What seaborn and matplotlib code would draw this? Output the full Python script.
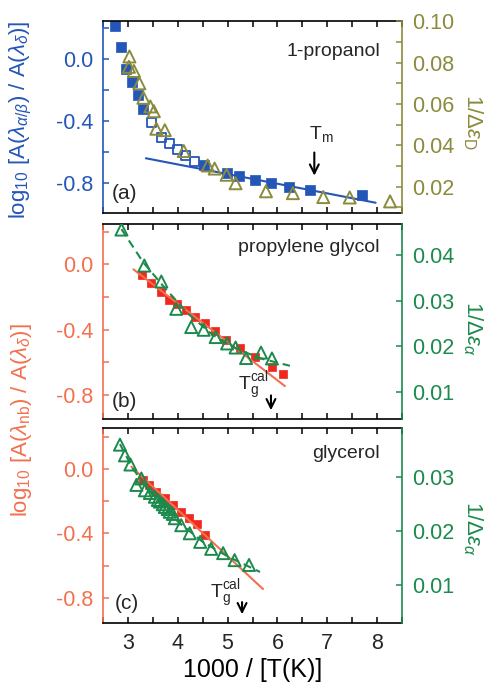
import numpy as np
import pandas as pd
import seaborn as sns
import matplotlib
matplotlib.use("Agg")
import matplotlib.pyplot as plt
from matplotlib.ticker import MultipleLocator, FormatStrFormatter

# colours
blue = '#2456b8'
olive = '#8b8b3e'
red = '#f0281e'
salmon = '#f3704f'
green = '#1b8a4c'

# (a) 1-propanol
a_sq_x = [2.74, 2.87, 2.97, 3.08, 3.21, 3.30, 4.52, 4.99, 5.23, 5.54, 5.87, 6.24, 6.65, 7.70]
a_sq_y = [0.215, 0.075, -0.066, -0.15, -0.235, -0.32, -0.686, -0.732, -0.757, -0.779, -0.80, -0.826, -0.843, -0.88]
a_open_x = [3.48, 3.68, 3.83, 4.00, 4.16, 4.34]
a_open_y = [-0.412, -0.504, -0.542, -0.586, -0.624, -0.66]
a_tri_x = [3.03, 3.02, 3.12, 3.23, 3.31, 3.45, 3.52, 3.57, 3.74, 4.12, 4.60, 4.74, 4.98, 5.16, 5.77, 6.31, 6.92, 7.45, 8.26]
a_tri_y = [0.083, 0.078, 0.076, 0.070, 0.063, 0.0588, 0.0565, 0.048, 0.0473, 0.0372, 0.0302, 0.0287,
           0.0257, 0.0216, 0.0177, 0.0168, 0.0149, 0.0147, 0.0128]
a_fit_x = [3.36, 7.97]
a_fit_y = [-0.64, -0.927]

# (b) propylene glycol
b_sq_x = [3.29, 3.47, 3.67, 3.83, 3.99, 4.16, 4.34, 4.54, 4.74, 4.96, 5.24, 5.54, 5.89, 6.11]
b_sq_y = [-0.067, -0.115, -0.17, -0.215, -0.245, -0.282, -0.323, -0.358, -0.41, -0.46, -0.513, -0.564, -0.63, -0.672]
b_tri_x = [2.87, 3.33, 3.67, 3.97, 4.27, 4.52, 4.76, 4.99, 5.16, 5.37, 5.67, 5.89]
b_tri_y = [0.0456, 0.0377, 0.0342, 0.0282, 0.0242, 0.0236, 0.0220, 0.0206, 0.0197, 0.0174, 0.0186, 0.0173]
b_fit_x = [3.11, 6.15]
b_fit_y = [-0.03, -0.745]
b_dash_x = [2.87, 3.3, 3.7, 4.2, 4.7, 5.2, 5.7, 6.25]
b_dash_y = [0.0457, 0.0385, 0.0333, 0.0272, 0.0225, 0.0193, 0.0172, 0.0157]

# (c) glycerol
c_sq_x = [3.31, 3.43, 3.57, 3.74, 3.91, 4.07, 4.23, 4.39, 4.54]
c_sq_y = [-0.068, -0.099, -0.141, -0.178, -0.224, -0.269, -0.306, -0.344, -0.41]
c_tri_x = [2.84, 2.94, 3.05, 3.17, 3.27, 3.34, 3.44, 3.54, 3.60, 3.64, 3.70, 3.74, 3.80, 3.84, 3.90, 3.94,
           4.07, 4.24, 4.45, 4.67, 4.91, 5.14, 5.43]
c_tri_y = [0.0361, 0.0341, 0.0324, 0.0286, 0.0298, 0.0276, 0.0271, 0.0264, 0.0258, 0.0255, 0.0250, 0.0245,
           0.0241, 0.0236, 0.0232, 0.0224, 0.0211, 0.0196, 0.0180, 0.0167, 0.0159, 0.0146, 0.0137]
c_fit_x = [3.07, 5.71]
c_fit_y = [0.014, -0.746]
c_dash_x = [2.84, 3.1, 3.5, 4.0, 4.5, 5.0, 5.65]
c_dash_y = [0.0362, 0.0316, 0.0267, 0.0218, 0.0180, 0.0153, 0.0124]

sns.set_theme(style="ticks")
plt.rcParams['font.family'] = ['Liberation Sans', 'DejaVu Sans']
plt.rcParams['mathtext.fontset'] = 'custom'
plt.rcParams['mathtext.rm'] = 'Liberation Sans'
plt.rcParams['mathtext.it'] = 'Liberation Sans:italic'
plt.rcParams['mathtext.bf'] = 'Liberation Sans:bold'
plt.rcParams['axes.unicode_minus'] = False

fig = plt.figure(figsize=(4.91, 6.87), dpi=100)
ax_a = fig.add_axes([0.2098, 0.690, 0.609, 0.2795])
ax_b = fig.add_axes([0.2098, 0.390, 0.609, 0.2838])
ax_c = fig.add_axes([0.2098, 0.0932, 0.609, 0.2838])
tw_a = ax_a.twinx()
tw_b = ax_b.twinx()
tw_c = ax_c.twinx()


def style(ax, tw, lcol, rcol, ylim, rlim, rmaj, rmin=None):
    ax.set_xlim(2.5, 8.5)
    ax.set_ylim(*ylim)
    tw.set_ylim(*rlim)
    ax.xaxis.set_major_locator(MultipleLocator(1))
    ax.xaxis.set_minor_locator(MultipleLocator(0.5))
    ax.yaxis.set_major_locator(MultipleLocator(0.4))
    ax.yaxis.set_minor_locator(MultipleLocator(0.2))
    ax.yaxis.set_major_formatter(FormatStrFormatter('%.1f'))
    tw.yaxis.set_major_locator(MultipleLocator(rmaj))
    if rmin:
        tw.yaxis.set_minor_locator(MultipleLocator(rmin))
    tw.yaxis.set_major_formatter(FormatStrFormatter('%.2f'))
    ax.tick_params(axis='x', which='both', direction='in', top=True, bottom=True, length=4.5,
                   width=1.1, color='black', labelsize=15.5, pad=7)
    ax.tick_params(axis='y', which='both', direction='in', left=True, right=False, length=4.5,
                   width=1.1, color=lcol, labelcolor=lcol, labelsize=15.5, pad=7)
    tw.tick_params(axis='y', which='both', direction='in', right=True, length=4.5,
                   width=1.1, color=rcol, labelcolor=rcol, labelsize=15.5, pad=7)
    for s in ax.spines.values():
        s.set_linewidth(1.2)
        s.set_color('black')
    ax.spines['left'].set_color(lcol)
    ax.spines['right'].set_visible(False)
    tw.spines['right'].set_color(rcol)
    tw.spines['right'].set_linewidth(1.2)
    for s in ['left', 'top', 'bottom']:
        tw.spines[s].set_visible(False)
    ax.set_ylabel('')
    tw.set_ylabel('')


# panel (a)
sns.lineplot(x=a_fit_x, y=a_fit_y, color=blue, lw=1.5, ax=ax_a)
sns.scatterplot(x=a_sq_x, y=a_sq_y, marker='s', s=52, color=blue, edgecolor=blue, linewidth=0.5, ax=ax_a)
sns.scatterplot(x=a_open_x, y=a_open_y, marker='s', s=42, color=blue, facecolors='none',
                edgecolor=blue, linewidth=1.3, ax=ax_a)
sns.scatterplot(x=a_tri_x, y=a_tri_y, marker='^', s=75, color=olive, facecolors='none',
                edgecolor=olive, linewidth=1.4, ax=tw_a)
style(ax_a, tw_a, blue, olive, (-0.993, 0.246), (0.0072, 0.1002), 0.02, 0.01)

# panel (b)
sns.lineplot(x=b_fit_x, y=b_fit_y, color=salmon, lw=1.5, ax=ax_b)
sns.scatterplot(x=b_sq_x, y=b_sq_y, marker='s', s=40, color=red, edgecolor=red, linewidth=0.5, ax=ax_b)
sns.lineplot(x=b_dash_x, y=b_dash_y, color=green, lw=1.5, linestyle=(0, (4, 2.5)), ax=tw_b)
sns.scatterplot(x=b_tri_x, y=b_tri_y, marker='^', s=75, color=green, facecolors='none',
                edgecolor=green, linewidth=1.4, ax=tw_b)
style(ax_b, tw_b, salmon, green, (-0.947, 0.247), (0.004, 0.0468), 0.01)

# panel (c)
sns.lineplot(x=c_fit_x, y=c_fit_y, color=salmon, lw=1.5, ax=ax_c)
sns.scatterplot(x=c_sq_x, y=c_sq_y, marker='s', s=40, color=red, edgecolor=red, linewidth=0.5, ax=ax_c)
sns.lineplot(x=c_dash_x, y=c_dash_y, color=green, lw=1.5, linestyle=(0, (4, 2.5)), ax=tw_c)
sns.scatterplot(x=c_tri_x, y=c_tri_y, marker='^', s=75, color=green, facecolors='none',
                edgecolor=green, linewidth=1.4, ax=tw_c)
style(ax_c, tw_c, salmon, green, (-0.957, 0.255), (0.0029, 0.0392), 0.01)

ax_a.tick_params(axis='x', labelbottom=False)
ax_b.tick_params(axis='x', labelbottom=False)
ax_c.set_xlabel('1000 / [T(K)]', fontsize=18, labelpad=3, color='black')

# names and panel letters
ax_a.text(0.926, 0.84, '1-propanol', transform=ax_a.transAxes, ha='right', va='center', fontsize=14)
ax_b.text(0.926, 0.88, 'propylene glycol', transform=ax_b.transAxes, ha='right', va='center', fontsize=14)
ax_c.text(0.926, 0.87, 'glycerol', transform=ax_c.transAxes, ha='right', va='center', fontsize=14)
ax_a.text(0.03, 0.10, '(a)', transform=ax_a.transAxes, ha='left', va='center', fontsize=15)
ax_b.text(0.03, 0.09, '(b)', transform=ax_b.transAxes, ha='left', va='center', fontsize=15)
ax_c.text(0.04, 0.10, '(c)', transform=ax_c.transAxes, ha='left', va='center', fontsize=15)

# arrows
arrow = dict(arrowstyle='->', color='black', lw=1.5, mutation_scale=16)
ax_a.annotate('', xy=(6.74, -0.77), xytext=(6.74, -0.585), arrowprops=arrow)
ax_a.text(6.63, -0.515, r'T$_{\rm m}$', ha='left', va='baseline', fontsize=14)
ax_b.annotate('', xy=(5.87, -0.91), xytext=(5.87, -0.785), arrowprops=arrow)
ax_b.text(5.2, -0.77, r'T$_{\rm g}^{\rm cal}$', ha='left', va='baseline', fontsize=14)
ax_c.annotate('', xy=(5.29, -0.92), xytext=(5.29, -0.81), arrowprops=arrow)
ax_c.text(4.64, -0.80, r'T$_{\rm g}^{\rm cal}$', ha='left', va='baseline', fontsize=14)

# axis titles
ax_a.text(-0.274, 0.484, r'log$_{10}$ [A($\lambda_{\alpha/\beta}$) / A($\lambda_{\delta}$)]',
          transform=ax_a.transAxes, rotation=90, ha='center', va='center', color=blue, fontsize=16)
fig.text(0.043, 0.389, r'log$_{10}$ [A($\lambda_{\rm nb}$) / A($\lambda_{\delta}$)]',
         rotation=90, ha='center', va='center', color=salmon, fontsize=16)
ax_a.text(1.235, 0.474, r'1/$\Delta\varepsilon_{\rm D}$', transform=ax_a.transAxes, rotation=270,
          ha='center', va='center', color=olive, fontsize=16)
ax_b.text(1.235, 0.467, r'1/$\Delta\varepsilon_{\alpha}$', transform=ax_b.transAxes, rotation=270,
          ha='center', va='center', color=green, fontsize=16)
ax_c.text(1.235, 0.487, r'1/$\Delta\varepsilon_{\alpha}$', transform=ax_c.transAxes, rotation=270,
          ha='center', va='center', color=green, fontsize=16)

fig.savefig('out.png', dpi=100)
